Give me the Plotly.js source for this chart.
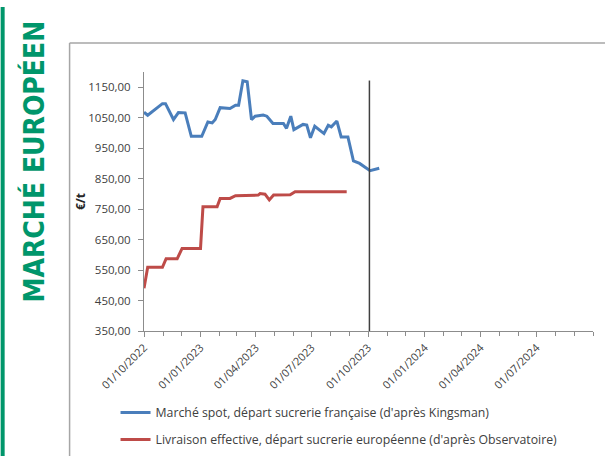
<!DOCTYPE html>
<html>
<head>
<meta charset="utf-8">
<script src="https://cdn.plot.ly/plotly-3.0.1.min.js"></script>
<style>
html,body{margin:0;padding:0;background:#fff;}
#chart{width:605px;height:456px;}
</style>
</head>
<body>
<div id="chart"></div>
<script>
// Marché spot, départ sucrerie française (d'après Kingsman)
const spotDates = ["2022-10-01","2022-10-07","2022-10-31","2022-11-05","2022-11-18","2022-11-26","2022-12-07","2022-12-17","2023-01-03","2023-01-13","2023-01-20","2023-01-25","2023-02-02","2023-02-18","2023-02-27","2023-03-04","2023-03-11","2023-03-18","2023-03-25","2023-03-31","2023-04-13","2023-04-19","2023-04-29","2023-05-16","2023-05-21","2023-05-28","2023-06-02","2023-06-17","2023-06-23","2023-06-29","2023-07-06","2023-07-21","2023-07-28","2023-08-02","2023-08-11","2023-08-18","2023-08-29","2023-09-07","2023-09-17","2023-10-04","2023-10-19"];
const spotValues = [1068,1058,1096,1096,1044,1067,1066,989,989,1036,1033,1044,1083,1080,1091,1091,1171,1168,1044,1055,1059,1055,1031,1031,1015,1055,1011,1028,1026,984,1022,998,1025,1020,1039,987,987,908,900,876,884];

// Livraison effective, départ sucrerie européenne (d'après Observatoire)
const obsDates = ["2022-10-01","2022-10-07","2022-10-31","2022-11-06","2022-11-24","2022-12-02","2023-01-01","2023-01-05","2023-01-28","2023-02-02","2023-02-18","2023-02-27","2023-04-05","2023-04-08","2023-04-16","2023-04-23","2023-04-30","2023-05-27","2023-06-04","2023-08-27"];
const obsValues = [490,559,559,587,587,621,621,758,758,785,785,794,796,801,799,780,796,797,807,807];

const seriesNames = ["Marché spot, départ sucrerie française (d'après Kingsman)","Livraison effective, départ sucrerie européenne (d'après Observatoire)"];

const xTickVals = ["2022-10-01","2023-01-01","2023-04-01","2023-07-01","2023-10-01","2024-01-01","2024-04-01","2024-07-01"];
const xTickText = ["01/10/2022","01/01/2023","01/04/2023","01/07/2023","01/10/2023","01/01/2024","01/04/2024","01/07/2024"];
const yTickVals = [350,450,550,650,750,850,950,1050,1150];
const yTickText = ["350,00","450,00","550,00","650,00","750,00","850,00","950,00","1050,00","1150,00"];
const markerDate = "2023-10-03";

// pixel helpers for decoration in paper coords
const L = 143.5, R = 593, T = 72, B = 331;
const px = p => (p - L) / (R - L);
const py = p => (B - p) / (B - T);

const traces = [
  {x: spotDates, y: spotValues, type: 'scatter', mode: 'lines', name: seriesNames[0], legendgroup: 'a',
   line: {color: '#4a7ebb', width: 3}},
  {x: obsDates, y: obsValues, type: 'scatter', mode: 'lines', name: seriesNames[1], legendgroup: 'b',
   line: {color: '#be4b48', width: 3}}
];

const axisColor = '#8c8c8c';
const layout = {
  width: 605, height: 456,
  margin: {l: L, r: 605 - R, t: T, b: 456 - B, pad: 0, autoexpand: false},
  paper_bgcolor: '#fff', plot_bgcolor: '#fff',
  font: {family: 'Open Sans, Noto Sans, sans-serif', color: '#404040', size: 11},
  showlegend: true,
  legend: {x: px(115), xanchor: 'left', yref: 'container', y: 1 - 398 / 456, yanchor: 'top', orientation: 'v',
           font: {size: 12.3, color: '#404040'}, tracegroupgap: 8, itemwidth: 30, bgcolor: 'rgba(0,0,0,0)'},
  xaxis: {type: 'date', range: ['2022-10-01', '2024-10-01'], showgrid: false, zeroline: false, automargin: false,
          showline: true, linecolor: axisColor, linewidth: 1,
          tickmode: 'array', tickvals: xTickVals, ticktext: xTickText, tickangle: -45,
          ticks: 'outside', ticklen: 5, tickcolor: axisColor, tickfont: {size: 11, color: '#404040'},
          minor: {dtick: 'M1', tick0: '2022-10-01', ticks: 'outside', ticklen: 4, tickcolor: axisColor, showgrid: false}},
  yaxis: {range: [350, 1200], showgrid: false, zeroline: false, automargin: false,
          showline: true, linecolor: axisColor, linewidth: 1,
          tickmode: 'array', tickvals: yTickVals, ticktext: yTickText, ticklabelstandoff: 5,
          ticks: 'outside', ticklen: 5, tickcolor: axisColor, tickfont: {size: 11.5, color: '#404040'},
          title: {text: '€/t', font: {size: 12, color: '#262626', weight: 'bold'}, standoff: 0}},
  shapes: [
    {type: 'line', xref: 'x', yref: 'y', x0: markerDate, x1: markerDate, y0: 350, y1: 1172,
     line: {color: '#404040', width: 1.5}},
    {type: 'rect', xref: 'paper', yref: 'paper', x0: px(0), x1: px(4), y0: py(456), y1: py(7),
     fillcolor: '#00966b', line: {width: 0}},
    {type: 'line', xref: 'paper', yref: 'paper', x0: px(69), x1: px(69), y0: py(456), y1: py(43),
     line: {color: '#a6a6a6', width: 1.5}},
    {type: 'line', xref: 'paper', yref: 'paper', x0: px(69), x1: px(605), y0: py(43), y1: py(43),
     line: {color: '#a6a6a6', width: 1.5}}
  ],
  annotations: [
    {text: 'MARCHÉ EUROPÉEN', xref: 'paper', yref: 'paper', x: px(33), y: py(162),
     xanchor: 'center', yanchor: 'middle', showarrow: false, textangle: -90,
     font: {family: 'DejaVu Sans Condensed, sans-serif', size: 28, color: '#00966b', weight: 'bold'}}
  ]
};

Plotly.newPlot('chart', traces, layout, {displayModeBar: false, staticPlot: true});
</script>
</body>
</html>
